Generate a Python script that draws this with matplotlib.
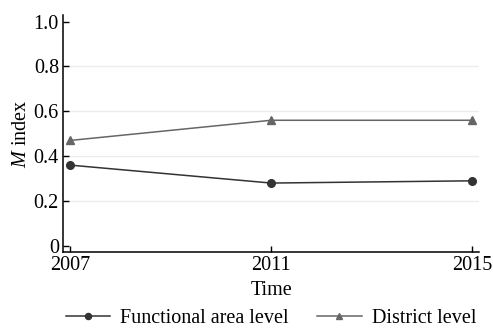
import matplotlib
matplotlib.use("Agg")
import matplotlib.pyplot as plt

years = [2007, 2011, 2015]
functional = [0.36, 0.28, 0.29]
district = [0.47, 0.56, 0.56]
yticks = [0, 0.2, 0.4, 0.6, 0.8, 1.0]
ytick_labels = ["0", "0.2", "0.4", "0.6", "0.8", "1.0"]
grid_levels = [0.2, 0.4, 0.6, 0.8]

plt.rcParams["font.family"] = "Liberation Serif"
plt.rcParams["mathtext.fontset"] = "custom"
plt.rcParams["mathtext.it"] = "Liberation Serif:italic"
plt.rcParams["mathtext.rm"] = "Liberation Serif"

fs = 14.5

fig = plt.figure(figsize=(4.93, 3.31), dpi=100)
ax = fig.add_axes([0.128, 0.239, 0.844, 0.716])

for g in grid_levels:
    ax.axhline(g, color="#ececec", linewidth=1.0, zorder=0)

ax.plot(years, functional, color="#333333", linewidth=1.1, marker="o",
        markersize=5.5, label="Functional area level")
ax.plot(years, district, color="#666666", linewidth=1.1, marker="^",
        markersize=5.5, label="District level")

ax.set_xlim(2006.86, 2015.14)
ax.set_ylim(-0.027, 1.03)
ax.set_xticks(years)
ax.set_xticklabels([str(y) for y in years])
ax.set_yticks(yticks)
ax.set_yticklabels(ytick_labels)
ax.tick_params(direction="in", length=4, width=1, labelsize=fs, pad=3)
for side in ("top", "right"):
    ax.spines[side].set_visible(False)
for side in ("left", "bottom"):
    ax.spines[side].set_linewidth(1.1)

ax.set_xlabel("Time", fontsize=fs, labelpad=4)
ax.set_ylabel("$M$ index", fontsize=fs, labelpad=2)

ax.legend(loc="lower center", bbox_to_anchor=(0.5, -0.355), ncol=2,
          frameon=False, fontsize=fs, handlelength=2.2, columnspacing=1.4,
          handletextpad=0.5, markerscale=0.8, borderaxespad=0)

fig.savefig("out.png", dpi=100)
